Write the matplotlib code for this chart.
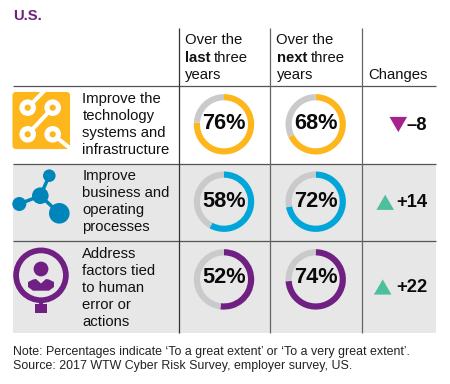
import matplotlib
matplotlib.use("Agg")
import matplotlib.pyplot as plt
from matplotlib.patches import Rectangle, FancyBboxPatch, Circle, Polygon

plt.rcParams['font.family'] = ['Liberation Sans', 'DejaVu Sans']

title = "U.S."
row_labels = ["Improve the\ntechnology\nsystems and\ninfrastructure",
              "Improve\nbusiness and\noperating\nprocesses",
              "Address\nfactors tied\nto human\nerror or\nactions"]
last_three = [76, 58, 52]
next_three = [68, 72, 74]
changes = [-8, 14, 22]
change_labels = ["–8", "+14", "+22"]
row_colors = ["#FDB71C", "#00A6D9", "#702082"]
note = ("Note: Percentages indicate ‘To a great extent’ or ‘To a very great extent’.\n"
        "Source: 2017 WTW Cyber Risk Survey, employer survey, US.")

W, H = 450, 384
fig = plt.figure(figsize=(4.5, 3.84), dpi=100)
ax = fig.add_axes([0, 0, 1, 1])
ax.set_xlim(0, W); ax.set_ylim(H, 0); ax.axis('off')

L, R = 12.5, 436
col_x = [178.5, 270, 361.7]
col_colors = ["#333333", "#666666", "#666666"]
row_y = [85.5, 163.5, 240.5, 333]
row_cy = [124.3, 201.7, 279.4]
pct_dy = [-0.9, -0.4, -1.5]
text_top = [92, 169, 247]
col_cx = [224, 315.7]
GRID = "#555555"
FS = 10.7

ax.add_patch(Rectangle((L, row_y[1]), R - L, row_y[3] - row_y[1], fc="#E7E7E7", ec="none", zorder=0))
for y in row_y[:3]:
    ax.plot([L, R], [y, y], color=GRID, lw=0.9, zorder=1, solid_capstyle='butt')
for x, c in zip(col_x, col_colors):
    ax.plot([x, x], [28, row_y[3]], color=c, lw=0.9, zorder=1, solid_capstyle='butt')

ax.text(13, 15.7, title, color="#702082", fontsize=10.6, fontweight='bold', va='center', ha='left')

# header
hy = [40.5, 57.5, 74.5]
ax.text(185, hy[0], "Over the", fontsize=FS, va='center', color="#111111")
ax.text(185, hy[1], "last", fontsize=FS, va='center', fontweight='bold', color="#111111")
ax.text(213.5, hy[1], "three", fontsize=FS, va='center', color="#111111")
ax.text(185, hy[2], "years", fontsize=FS, va='center', color="#111111")
ax.text(276.5, hy[0], "Over the", fontsize=FS, va='center', color="#111111")
ax.text(276.5, hy[1], "next", fontsize=FS, va='center', fontweight='bold', color="#111111")
ax.text(311, hy[1], "three", fontsize=FS, va='center', color="#111111")
ax.text(276.5, hy[2], "years", fontsize=FS, va='center', color="#111111")
ax.text(368.5, hy[2], "Changes", fontsize=FS, va='center', color="#111111")

# row labels
for i, lab in enumerate(row_labels):
    for j, line in enumerate(lab.split("\n")):
        ax.text(82.3, text_top[i] + 7 + j * 17.1, line, fontsize=FS, va='center', color="#111111")

# donuts
def donut(cx, cy, v, color):
    # y axis is inverted: -90 is the top on screen and counterclock sweeps clockwise on screen
    ax.pie([v, 100 - v], colors=[color, "#C9CACC"], center=(cx, cy), radius=30.2,
           startangle=-90, counterclock=True,
           wedgeprops=dict(width=6.2, linewidth=0), frame=True, normalize=True)

for i in range(3):
    for cx, vals in zip(col_cx, (last_three, next_three)):
        donut(cx, row_cy[i], vals[i], row_colors[i])
        ax.text(cx, row_cy[i] + pct_dy[i], f"{vals[i]}%", fontsize=15.7, fontweight='bold',
                ha='center', va='center', color="#0A0A0A", zorder=5)

ax.set_xlim(0, W); ax.set_ylim(H, 0); ax.set_aspect('auto'); ax.axis('off')

# change markers and values
tri_x = [398.3, 385.2, 382.7]
tri_y = [124.5, 202.3, 287]
val_y = [126, 202.9, 287.7]
for i, c in enumerate(changes):
    cx, cy = tri_x[i], tri_y[i]
    hw, hh = 8.8, 7.6
    if c < 0:
        pts = [(cx - hw, cy - hh), (cx + hw, cy - hh), (cx, cy + hh)]
        col = "#A6228E"
    else:
        pts = [(cx - hw, cy + hh), (cx + hw, cy + hh), (cx, cy - hh)]
        col = "#4DBE9E"
    ax.add_patch(Polygon(pts, fc=col, ec='none', zorder=3))
    ax.text(427.5, val_y[i], change_labels[i], fontsize=13.2, fontweight='bold',
            ha='right', va='center', color="#0A0A0A")

# icon 1: circuit
Y = "#FDB71C"
ax.add_patch(FancyBboxPatch((13.5, 93), 55.5, 55, boxstyle="round,pad=0,rounding_size=2.5", fc=Y, ec=Y, lw=1.5, zorder=2))
for a, b in [((27.7, 107.7), (45, 90)), ((27.7, 134.3), (52.7, 107.7)), ((52.7, 134.3), (71, 149))]:
    ax.plot(*zip(a, b), color="white", lw=2.9, zorder=3, solid_capstyle='butt')
for cx, cy in [(27.7, 107.7), (52.7, 107.7), (27.7, 134.3), (52.7, 134.3)]:
    ax.add_patch(Circle((cx, cy), 8.3, fc="white", ec='none', zorder=4))
    ax.add_patch(Circle((cx, cy), 3.1, fc=Y, ec='none', zorder=5))

# icon 2: molecule
B = "#0085BB"
hub = (40.3, 195.7)
for c in [(49.3, 175.7), (19.3, 204), (59.3, 213.3)]:
    ax.plot([hub[0], c[0]], [hub[1], c[1]], color=B, lw=2.5, zorder=3)
for (cx, cy), r in [(hub, 8.3), ((49.3, 175.7), 6.3), ((19.3, 204), 7), ((59.3, 213.3), 10.3)]:
    ax.add_patch(Circle((cx, cy), r, fc=B, ec='none', zorder=4))

# icon 3: person in ring
P = "#702082"
ax.add_patch(Circle((41, 275.3), 24.9, fc='none', ec=P, lw=4.1, zorder=3))
ax.add_patch(Rectangle((39, 301), 4, 4, fc=P, ec='none', zorder=3))
ax.add_patch(Rectangle((35.3, 304), 11.4, 9.4, fc=P, ec='none', zorder=3))
ax.add_patch(Circle((41, 269), 7.4, fc=P, ec='none', zorder=4))
ax.add_patch(Polygon([(28, 282), (33, 279.5), (36, 279), (41, 283.5), (46, 279), (49, 279.5),
                      (54, 282), (54, 287), (49, 290.7), (33, 290.7), (28, 287)],
                     fc=P, ec='none', zorder=4))

# note
for j, line in enumerate(note.split("\n")):
    ax.text(13, 351.7 + j * 14.4, line, fontsize=8.94, va='center', color="#222222")

fig.savefig("out.png", dpi=100)
